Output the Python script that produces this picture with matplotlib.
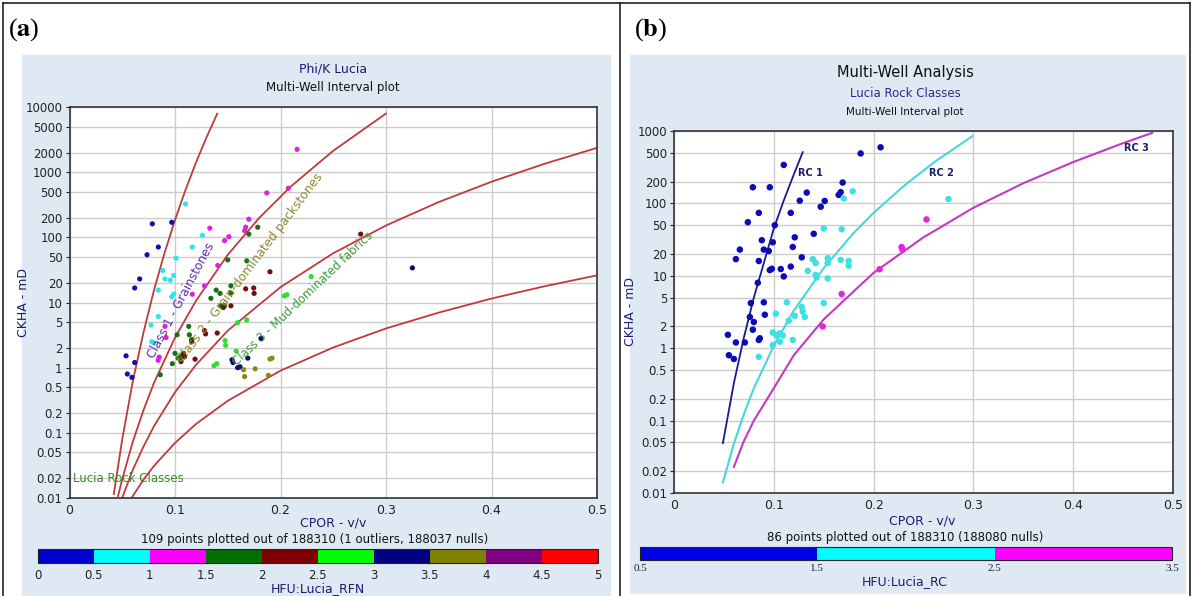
import matplotlib as mpl
import matplotlib.pyplot as plt
from matplotlib.colors import ListedColormap, BoundaryNorm
from matplotlib.patches import Rectangle
from matplotlib.lines import Line2D
from matplotlib.ticker import FixedLocator, FuncFormatter, NullLocator
from matplotlib import font_manager

plt.rcParams['mathtext.fontset'] = 'stix'
names = {f.name for f in font_manager.fontManager.ttflist}
NARROW = 'Liberation Sans Narrow' if 'Liberation Sans Narrow' in names else 'DejaVu Sans'

W, H = 1193, 596

# ---- panel (a): Lucia rock-fabric boundaries ----
rfn05_phi = [0.042, 0.05, 0.06, 0.07, 0.08, 0.09, 0.10, 0.11, 0.12, 0.13, 0.14]
rfn05_k = [0.0115, 0.080, 0.62, 3.4, 15.3, 57, 185, 536, 1420, 3460, 7900]
rfn15_phi = [0.046, 0.05, 0.06, 0.07, 0.08, 0.10, 0.12, 0.15, 0.18, 0.21, 0.25, 0.30]
rfn15_k = [0.0107, 0.0195, 0.073, 0.22, 0.58, 2.9, 10.7, 54, 200, 607, 2130, 7940]
rfn25_phi = [0.05, 0.06, 0.07, 0.08, 0.10, 0.12, 0.15, 0.20, 0.25, 0.30, 0.35, 0.40, 0.45, 0.50]
rfn25_k = [0.0101, 0.027, 0.061, 0.126, 0.42, 1.11, 3.7, 17.2, 57, 152, 348, 713, 1340, 2360]
rfn4_phi = [0.059, 0.07, 0.08, 0.10, 0.12, 0.15, 0.20, 0.25, 0.30, 0.35, 0.40, 0.45, 0.50]
rfn4_k = [0.0101, 0.019, 0.031, 0.070, 0.137, 0.31, 0.90, 2.04, 4.0, 7.0, 11.5, 17.7, 26.1]

# ---- panel (a) points: porosity, permeability, HFU (RFN) value ----
a_phi = [0.0785, 0.0969, 0.0842, 0.0735, 0.0665, 0.0618, 0.0536, 0.0618, 0.0548, 0.0592,
         0.110, 0.126, 0.1164, 0.101, 0.0883, 0.0905, 0.0955, 0.0988, 0.0842, 0.0969,
         0.0988, 0.0842, 0.0773, 0.078, 0.080,
         0.187, 0.2074, 0.2157, 0.170, 0.167, 0.166, 0.133, 0.151, 0.147, 0.1405,
         0.128, 0.1164, 0.0905, 0.0915, 0.085, 0.084,
         0.1784, 0.170, 0.150, 0.168, 0.153, 0.153, 0.139, 0.1427, 0.134, 0.1436,
         0.147, 0.113, 0.102, 0.1136, 0.1158, 0.100, 0.103, 0.106, 0.0975, 0.086,
         0.190, 0.167, 0.1746, 0.175, 0.153, 0.1458, 0.128, 0.129, 0.1158, 0.140,
         0.119, 0.108, 0.109, 0.1057, 0.276,
         0.2036, 0.206, 0.168, 0.1594, 0.1474, 0.148, 0.158, 0.137, 0.1395, 0.229,
         0.1815, 0.169, 0.154, 0.155, 0.1594, 0.1616, 0.325,
         0.165, 0.166, 0.176, 0.190, 0.192, 0.1885]
a_k = [161, 170, 71, 54, 23, 16.7, 1.52, 1.2, 0.80, 0.71,
       325, 107, 71, 48, 31, 23, 22, 26, 15.5, 12.3,
       13.5, 6.1, 4.5, 2.5, 2.4,
       480, 566, 2240, 190, 143, 126, 138, 102, 89, 37,
       18, 13.4, 4.3, 2.9, 1.45, 1.3,
       143, 112, 45, 43.6, 18, 14, 15.5, 13.8, 11.6, 8.9,
       8.9, 4.3, 3.2, 3.2, 2.7, 1.66, 1.4, 1.5, 1.15, 0.78,
       29.6, 16.2, 16.7, 13.8, 8.9, 8.4, 3.7, 3.3, 2.5, 3.4,
       1.35, 1.66, 1.47, 1.24, 112,
       12.6, 13.2, 5.4, 4.9, 2.6, 2.2, 1.8, 1.07, 1.15, 25,
       2.8, 1.4, 1.32, 1.2, 1.0, 1.03, 34,
       0.93, 0.73, 0.96, 1.36, 1.4, 0.76]
a_rfn = [0.25] * 10 + [0.75] * 15 + [1.25] * 16 + [1.75] * 20 + [2.25] * 15 + \
        [2.75] * 10 + [3.25] * 7 + [3.75] * 6

a_ticks_y = [0.01, 0.02, 0.05, 0.1, 0.2, 0.5, 1, 2, 5, 10, 20, 50, 100, 200, 500,
             1000, 2000, 5000, 10000]
a_bounds = [0, 0.5, 1, 1.5, 2, 2.5, 3, 3.5, 4, 4.5, 5]
a_colors = ['#0000d0', '#00ffff', '#ff00ff', '#007000', '#800000',
            '#00ff00', '#000080', '#808000', '#800080', '#ff0000']
a_dot_colors = ['#1010b0', '#30e4ec', '#e020e0', '#1a701a', '#701010',
                '#30e030', '#0a0a70', '#8a8a10', '#800080', '#ff0000']

# ---- panel (b): rock class lines ----
rc1_phi = [0.049, 0.06, 0.07, 0.08, 0.09, 0.10, 0.11, 0.12, 0.129]
rc1_k = [0.049, 0.33, 1.4, 5, 15, 45, 110, 250, 510]
rc2_phi = [0.049, 0.06, 0.07, 0.08, 0.10, 0.12, 0.15, 0.18, 0.20, 0.23, 0.26, 0.299]
rc2_k = [0.014, 0.048, 0.123, 0.28, 1.08, 3.3, 12.8, 39, 74, 173, 365, 850]
rc3_phi = [0.060, 0.07, 0.08, 0.10, 0.12, 0.15, 0.20, 0.25, 0.30, 0.35, 0.40, 0.45, 0.479]
rc3_k = [0.023, 0.052, 0.10, 0.28, 0.80, 2.5, 11, 34, 87, 190, 372, 680, 940]

b_phi = [0.110, 0.079, 0.096, 0.169, 0.133, 0.167, 0.165, 0.126, 0.151, 0.147,
         0.085, 0.117, 0.074, 0.101, 0.121, 0.088, 0.140, 0.099, 0.119, 0.066,
         0.090, 0.095, 0.062, 0.085, 0.128, 0.117, 0.107, 0.096, 0.098, 0.110,
         0.084, 0.077, 0.090, 0.076, 0.080, 0.091, 0.079, 0.086, 0.085, 0.054,
         0.062, 0.071, 0.055, 0.060, 0.187, 0.207,
         0.170, 0.179, 0.150, 0.168, 0.139, 0.142, 0.154, 0.154, 0.167, 0.175,
         0.175, 0.134, 0.142, 0.143, 0.154, 0.113, 0.150, 0.102, 0.128, 0.129,
         0.131, 0.121, 0.115, 0.099, 0.103, 0.106, 0.109, 0.106, 0.099, 0.119,
         0.085, 0.275,
         0.253, 0.228, 0.229, 0.206, 0.168, 0.149]
b_k = [340, 167, 167, 194, 141, 143, 131, 109, 108, 90,
       74, 74, 55, 50, 34, 31, 38, 29, 25, 23,
       23, 22, 17, 16, 18, 13.4, 12.4, 12, 12.5, 9.8,
       8.0, 4.2, 4.3, 2.7, 2.3, 2.9, 1.8, 1.37, 1.3, 1.53,
       1.2, 1.2, 0.80, 0.71, 490, 595,
       117, 147, 45, 44, 17, 15, 17.5, 15, 16.6, 16,
       13.8, 11.7, 10.3, 9.5, 9.2, 4.3, 4.2, 3.0, 3.7, 3.2,
       2.7, 2.8, 2.4, 1.64, 1.5, 1.6, 1.5, 1.23, 1.1, 1.3,
       0.76, 115,
       60, 25, 23, 12.3, 5.6, 2.0]
b_rc = [1] * 46 + [2] * 32 + [3] * 6

b_ticks_y = [0.01, 0.02, 0.05, 0.1, 0.2, 0.5, 1, 2, 5, 10, 20, 50, 100, 200, 500, 1000]
b_bounds = [0.5, 1.5, 2.5, 3.5]
b_colors = ['#0000e8', '#00ffff', '#ff00ff']
b_dot_colors = ['#0c0cb4', '#3ee0e4', '#e028d8']
x_ticks = [0, 0.1, 0.2, 0.3, 0.4, 0.5]


def fx(px):
    return px / W


def fy(py):
    return 1 - py / H


def box(x0, y0, x1, y1):
    # pixel box -> [left, bottom, width, height] in figure fraction
    return [fx(x0), fy(y1), fx(x1) - fx(x0), fy(y0) - fy(y1)]


fmt = FuncFormatter(lambda v, _: f'{v:g}')

fig = plt.figure(figsize=(W / 100, H / 100), dpi=100)
fig.patch.set_facecolor('white')

# panel backgrounds
fig.add_artist(Rectangle((fx(22), fy(596)), fx(610) - fx(22), fy(55) - fy(596),
                         transform=fig.transFigure, color='#dfe9f4', zorder=0))
fig.add_artist(Rectangle((fx(630), fy(593)), fx(1185) - fx(630), fy(55) - fy(593),
                         transform=fig.transFigure, color='#dfe9f4', zorder=0))

# outer frame and divider
for xs, ys in [([3, 1190], [3, 3]), ([3, 3], [3, 596]), ([1190, 1190], [3, 596]),
               ([620, 620], [3, 596])]:
    fig.add_artist(Line2D([fx(x) for x in xs], [fy(y) for y in ys],
                          transform=fig.transFigure, color='#222222', lw=1.2))

fig.text(fx(8), fy(30), r'($\mathbf{a}$)', fontsize=19, family='Liberation Serif', va='center')
fig.text(fx(634), fy(30), r'($\mathbf{b}$)', fontsize=19, family='Liberation Serif', va='center')


def style_axes(ax, yticks, tick_fs):
    ax.set_yscale('log')
    ax.set_facecolor('white')
    ax.set_xlim(0, 0.5)
    ax.set_ylim(yticks[0], yticks[-1])
    ax.yaxis.set_major_locator(FixedLocator(yticks))
    ax.yaxis.set_minor_locator(NullLocator())
    ax.yaxis.set_major_formatter(fmt)
    ax.xaxis.set_major_locator(FixedLocator(x_ticks))
    ax.xaxis.set_major_formatter(fmt)
    ax.grid(True, color='#cccccc', lw=1)
    ax.set_axisbelow(True)
    ax.tick_params(axis='y', length=3, labelsize=tick_fs, colors='#222222', pad=2)
    ax.tick_params(axis='x', length=0, labelsize=tick_fs + 0.5, colors='#222222', pad=4)
    for lab in ax.get_xticklabels() + ax.get_yticklabels():
        lab.set_family(NARROW)
    for sp in ax.spines.values():
        sp.set_color('#333333')
        sp.set_linewidth(1.2)


# ================= panel (a) =================
axa = fig.add_axes(box(69.5, 107, 597, 498))
style_axes(axa, a_ticks_y, 8.5)

for phi, k in [(rfn05_phi, rfn05_k), (rfn15_phi, rfn15_k), (rfn25_phi, rfn25_k), (rfn4_phi, rfn4_k)]:
    axa.plot(phi, k, color='#c0393b', lw=1.3, clip_on=True)

a_cmap = ListedColormap(a_colors)
a_norm = BoundaryNorm(a_bounds, a_cmap.N)
axa.scatter(a_phi, a_k, c=a_rfn, cmap=ListedColormap(a_dot_colors), norm=a_norm,
            s=14, edgecolors='none', zorder=3)

axa.text(0.1063, 10.6, 'Class 1 - Grainstones', rotation=62, rotation_mode='anchor',
         ha='center', va='center', fontsize=8.7, color='#5b2fb0', family=NARROW)
axa.text(0.1708, 33.6, 'Class 2 - Grain-dominated packstones', rotation=53,
         rotation_mode='anchor', ha='center', va='center', fontsize=8.8, color='#8c8a2c',
         family=NARROW)
axa.text(0.2209, 11.4, 'Class 3 - Mud-dominated fabrics', rotation=43.5,
         rotation_mode='anchor', ha='center', va='center', fontsize=8.4, color='#3e9a3e',
         family=NARROW)
axa.text(0.006, 0.033, 'Lucia Rock Classes', transform=axa.transAxes, fontsize=8.5,
         color='#3a8a26', family=NARROW, va='bottom')
axa.set_ylabel('CKHA - mD', color='#1b1b70', fontsize=9, family=NARROW)
axa.yaxis.set_label_coords(-0.075, 0.5)

fig.text(fx(333), fy(69), 'Phi/K Lucia', ha='center', va='center', fontsize=9,
         color='#1b1b70', family=NARROW)
fig.text(fx(333), fy(88), 'Multi-Well Interval plot', ha='center', va='center', fontsize=8.5,
         color='#111111', family=NARROW)
fig.text(fx(333), fy(523), 'CPOR - v/v', ha='center', va='center', fontsize=9,
         color='#1b1b70', family=NARROW)
fig.text(fx(315), fy(540), '109 points plotted out of 188310 (1 outliers, 188037 nulls)',
         ha='center', va='center', fontsize=8.5, color='#111111', family=NARROW)

caxa = fig.add_axes(box(37.5, 549, 598, 563))
cba = mpl.colorbar.ColorbarBase(caxa, cmap=a_cmap, norm=a_norm, orientation='horizontal',
                                ticks=a_bounds)
cba.ax.xaxis.set_major_formatter(fmt)
cba.ax.tick_params(length=0, labelsize=8.5, colors='#222222', pad=4)
for lab in cba.ax.get_xticklabels():
    lab.set_family(NARROW)
cba.outline.set_color('#222222')
fig.text(fx(318), fy(589), 'HFU:Lucia_RFN', ha='center', va='center', fontsize=9,
         color='#1b1b70', family=NARROW)

# ================= panel (b) =================
axb = fig.add_axes(box(674, 131, 1173, 493))
style_axes(axb, b_ticks_y, 8.5)

axb.plot(rc1_phi, rc1_k, color='#1a1a8c', lw=1.3)
axb.plot(rc2_phi, rc2_k, color='#46d6dc', lw=1.5)
axb.plot(rc3_phi, rc3_k, color='#c03ac4', lw=1.5)
b_norm = BoundaryNorm(b_bounds, 3)
axb.scatter(b_phi, b_k, c=b_rc, cmap=ListedColormap(b_dot_colors), norm=b_norm,
            s=22, edgecolors='none', zorder=3)

axb.text(0.124, 263, 'RC 1', fontsize=7, fontweight='bold', color='#1b1b6a', va='center')
axb.text(0.256, 263, 'RC 2', fontsize=7, fontweight='bold', color='#1b1b6a', va='center')
axb.text(0.451, 582, 'RC 3', fontsize=7, fontweight='bold', color='#1b1b6a', va='center')
axb.set_ylabel('CKHA - mD', color='#1b1b70', fontsize=9, family=NARROW)
axb.yaxis.set_label_coords(-0.075, 0.5)

fig.text(fx(905), fy(73), 'Multi-Well Analysis', ha='center', va='center', fontsize=10.5,
         color='#111111')
fig.text(fx(905), fy(94), 'Lucia Rock Classes', ha='center', va='center', fontsize=8.5,
         color='#2b2b8a')
fig.text(fx(905), fy(112), 'Multi-Well Interval plot', ha='center', va='center', fontsize=7.5,
         color='#111111')
fig.text(fx(922), fy(521), 'CPOR - v/v', ha='center', va='center', fontsize=9,
         color='#1b1b70', family=NARROW)
fig.text(fx(905), fy(537), '86 points plotted out of 188310 (188080 nulls)',
         ha='center', va='center', fontsize=8.5, color='#111111', family=NARROW)

caxb = fig.add_axes(box(640, 547, 1172, 560))
b_cmap = ListedColormap(b_colors)
cbb = mpl.colorbar.ColorbarBase(caxb, cmap=b_cmap, norm=b_norm, orientation='horizontal',
                                ticks=b_bounds)
cbb.ax.xaxis.set_major_formatter(fmt)
cbb.ax.tick_params(length=0, labelsize=8, colors='#222222', pad=3)
for lab in cbb.ax.get_xticklabels():
    lab.set_family('Liberation Serif')
cbb.outline.set_color('#222222')
fig.text(fx(905), fy(582), 'HFU:Lucia_RC', ha='center', va='center', fontsize=9,
         color='#1b1b70', family=NARROW)

fig.savefig('out.png', dpi=100)
